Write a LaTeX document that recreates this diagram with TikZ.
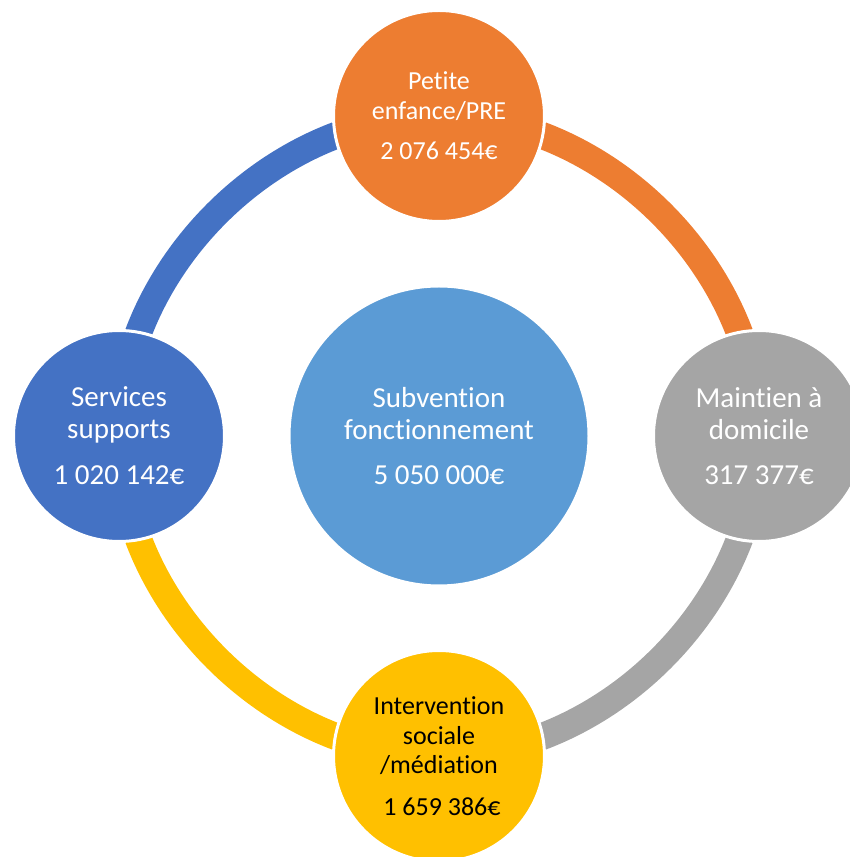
\documentclass[tikz,border=0pt]{standalone}
\usepackage{fontspec}
\setmainfont{Carlito}[Ligatures=NoCommon]
\usetikzlibrary{backgrounds}
\definecolor{peorange}{HTML}{ED7D31}
\definecolor{mdgray}{HTML}{A5A5A5}
\definecolor{isyellow}{HTML}{FFC000}
\definecolor{ssblue}{HTML}{4472C4}
\definecolor{sfblue}{HTML}{5B9BD5}
\begin{document}
\begin{tikzpicture}[x=1pt, y=1pt,
  bubble/.style={circle, draw=white, line width=3pt, minimum size=211pt, inner sep=0pt, align=center, text=white, font=\fontsize{29}{32}\selectfont},
  small bubble/.style={bubble, font=\fontsize{26}{29.5}\selectfont},
  band/.style={line width=27pt, bend left=45, looseness=0.94}]
\useasboundingbox (0,0) rectangle (849,857);
\node[bubble, fill=sfblue, minimum size=300pt] (sf) at (439, 421) {Subvention\\fonctionnement\\[13.7pt]5 050 000€};
\node[small bubble, fill=peorange] (pe) at (439, 741) {Petite\\enfance/PRE\\[11pt]2 076 454€};
\node[bubble, fill=mdgray] (md) at (759, 421) {Maintien à\\domicile\\[13.5pt]317 377€};
\node[small bubble, fill=isyellow, text=black] (is) at (439, 101) {Intervention\\sociale\\/médiation\\[12pt]\hspace*{.23em}1 659 386€};
\node[bubble, fill=ssblue] (ss) at (119, 421) {Services\\supports\\[14pt]1 020 142€};
\begin{pgfonlayer}{background}
\draw[band, peorange] (pe.center) to (md.center);
\draw[band, mdgray] (md.center) to (is.center);
\draw[band, isyellow] (is.center) to (ss.center);
\draw[band, ssblue] (ss.center) to (pe.center);
\end{pgfonlayer}
\end{tikzpicture}
\end{document}
